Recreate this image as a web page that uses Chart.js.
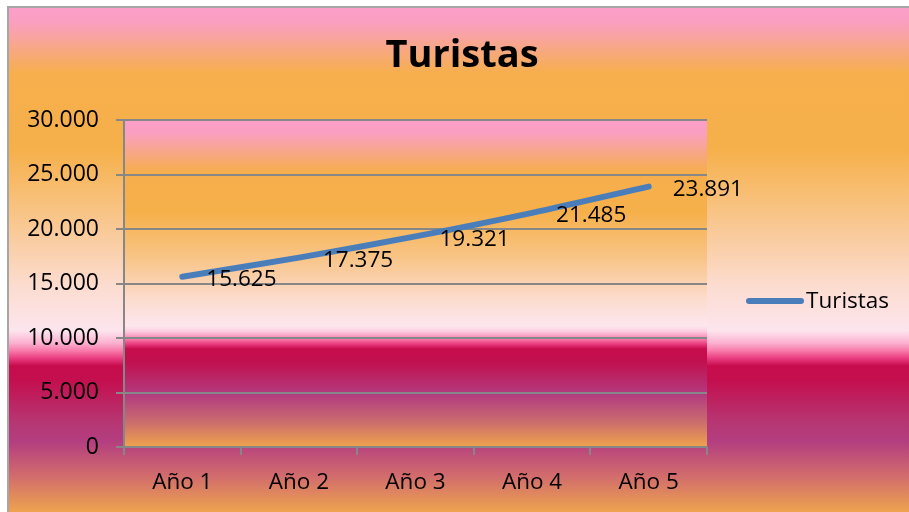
<!DOCTYPE html>
<html>
<head>
<meta charset="utf-8">
<title>Turistas</title>
<script src="https://cdn.jsdelivr.net/npm/chart.js@4"></script>
<style>
  html, body { margin: 0; padding: 0; background: #fff; }
  #wrap { width: 909px; height: 512px; }
</style>
</head>
<body>
<div id="wrap"><canvas id="turistasChart" width="909" height="512"></canvas></div>
<script>
const years = ['Año 1', 'Año 2', 'Año 3', 'Año 4', 'Año 5'];
const turistas = [15625, 17375, 19321, 21485, 23891];
const yTicks = [0, 5000, 10000, 15000, 20000, 25000, 30000];

const FONT = '"Open Sans", Lato, sans-serif';
const LINE_BLUE = '#4a7ebb';
const GRID = '#878787';

// 23891 -> "23.891"
function fmt(v) {
    return String(Math.round(v)).replace(/\B(?=(\d{3})+(?!\d))/g, '.');
}

function addStops(grad, stops) {
    stops.forEach(s => grad.addColorStop(s[0], s[1]));
}

// background of the whole frame plus the plot area, title, legend and value labels
const decorations = {
    id: 'decorations',
    beforeDraw(chart) {
        const { ctx, chartArea: a, width, height } = chart;
        ctx.save();
        ctx.fillStyle = '#ffffff';
        ctx.fillRect(0, 0, width, height);

        const top = 8, left = 9;
        const g = ctx.createLinearGradient(0, top, 0, height);
        addStops(g, [
            [0.00, '#fb9fca'], [0.03, '#fa9fbf'], [0.13, '#f6af4c'],
            [0.28, '#f6b04a'], [0.40, '#f8c383'], [0.55, '#fcdccf'],
            [0.64, '#fde5ee'], [0.65, '#fdd0e2'], [0.665, '#fbb0cf'],
            [0.68, '#f87aaa'], [0.695, '#ea3d80'], [0.71, '#c70c4d'],
            [0.74, '#c40f4f'], [0.82, '#b63672'], [0.86, '#b33e80'],
            [0.93, '#d26d6c'], [1.00, '#eea34f']
        ]);
        ctx.fillStyle = g;
        ctx.fillRect(left, top, width - left, height - top);

        // plot area has its own copy of the gradient
        const h = a.bottom - a.top;
        const pg = ctx.createLinearGradient(0, a.top, 0, a.bottom);
        addStops(pg, [
            [0.00, '#fb9fca'], [0.04, '#fa9fc0'], [0.16, '#f6ae4c'],
            [0.28, '#f6b04a'], [0.42, '#f8c486'], [0.55, '#fcdccf'],
            [0.63, '#fde6ee'], [0.645, '#fdd0e2'], [0.655, '#fbb0cf'],
            [0.67, '#f87aaa'], [0.685, '#ea3d80'], [0.70, '#c70c4d'],
            [0.74, '#c1104f'], [0.84, '#b23c80'], [0.92, '#c96a6e'],
            [1.00, '#f0a34c']
        ]);
        ctx.fillStyle = pg;
        ctx.fillRect(a.left, a.top, a.right - a.left, h);

        // frame edges
        ctx.strokeStyle = '#a6a6a6';
        ctx.lineWidth = 2;
        ctx.beginPath();
        ctx.moveTo(left - 1, height);
        ctx.lineTo(left - 1, top - 1);
        ctx.lineTo(width, top - 1);
        ctx.stroke();
        ctx.restore();
    },
    afterDraw(chart) {
        const { ctx } = chart;
        const ds = chart.data.datasets[0];
        const meta = chart.getDatasetMeta(0);
        ctx.save();
        ctx.fillStyle = '#000';

        // title
        ctx.font = 'bold 38px ' + FONT;
        ctx.textAlign = 'center';
        ctx.textBaseline = 'middle';
        ctx.fillText('Turistas', 462, 56);

        // value labels to the right of each point
        ctx.font = '22.5px ' + FONT;
        ctx.textAlign = 'left';
        meta.data.forEach((pt, i) => {
            ctx.fillText(fmt(ds.data[i]), pt.x + 24, pt.y + 3);
        });

        // legend
        ctx.strokeStyle = ds.borderColor;
        ctx.lineWidth = ds.borderWidth;
        ctx.lineCap = 'round';
        ctx.beginPath();
        ctx.moveTo(749, 301);
        ctx.lineTo(801, 301);
        ctx.stroke();
        ctx.fillText(ds.label, 806, 302);
        ctx.restore();
    }
};

new Chart(document.getElementById('turistasChart'), {
    type: 'line',
    data: {
        labels: years,
        datasets: [{
            label: 'Turistas',
            data: turistas,
            borderColor: LINE_BLUE,
            borderWidth: 6,
            borderCapStyle: 'round',
            tension: 0.3,
            pointRadius: 0,
            pointHoverRadius: 0,
            fill: false
        }]
    },
    options: {
        responsive: false,
        animation: false,
        events: [],
        layout: { padding: { left: 8, top: 120, right: 202, bottom: 0 } },
        plugins: {
            legend: { display: false },
            title: { display: false },
            tooltip: { enabled: false }
        },
        scales: {
            x: {
                offset: true,
                afterFit: s => { s.height = 65; },
                grid: {
                    offset: true,
                    drawOnChartArea: false,
                    tickLength: 8,
                    color: GRID,
                    lineWidth: 2
                },
                border: { color: GRID, width: 2 },
                ticks: { color: '#000', padding: 14, font: { family: FONT, size: 22.5 } }
            },
            y: {
                min: 0,
                max: 30000,
                afterFit: s => { s.width = 116; },
                afterBuildTicks: s => { s.ticks = yTicks.map(v => ({ value: v })); },
                grid: { color: GRID, lineWidth: 2, tickLength: 8 },
                border: { color: GRID, width: 2 },
                ticks: {
                    color: '#000',
                    padding: 17,
                    font: { family: FONT, size: 23 },
                    callback: v => fmt(v)
                }
            }
        }
    },
    plugins: [decorations]
});
</script>
</body>
</html>
